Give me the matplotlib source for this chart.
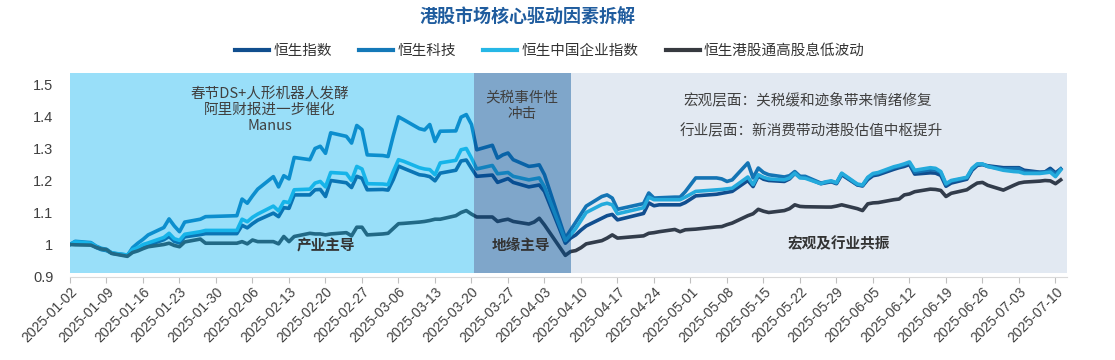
import matplotlib
matplotlib.use("Agg")
import matplotlib.pyplot as plt
import matplotlib.dates as mdates
from matplotlib.lines import Line2D
import pandas as pd

plt.rcParams['font.family'] = ['Noto Sans CJK SC', 'DejaVu Sans']

# =============================================================================
# Data (normalised to 2025-01-02 = 1)

dates = [
    '2025-01-02', '2025-01-03', '2025-01-06', '2025-01-07', '2025-01-08', '2025-01-09', '2025-01-10',
    '2025-01-13', '2025-01-14', '2025-01-15', '2025-01-16', '2025-01-17', '2025-01-20', '2025-01-21',
    '2025-01-22', '2025-01-23', '2025-01-24', '2025-01-27', '2025-01-28',
    '2025-02-03', '2025-02-04', '2025-02-05', '2025-02-06', '2025-02-07', '2025-02-10', '2025-02-11',
    '2025-02-12', '2025-02-13', '2025-02-14', '2025-02-17', '2025-02-18', '2025-02-19', '2025-02-20',
    '2025-02-21', '2025-02-24', '2025-02-25', '2025-02-26', '2025-02-27', '2025-02-28',
    '2025-03-03', '2025-03-04', '2025-03-05', '2025-03-06', '2025-03-07', '2025-03-10', '2025-03-11',
    '2025-03-12', '2025-03-13', '2025-03-14', '2025-03-17', '2025-03-18', '2025-03-19', '2025-03-20',
    '2025-03-21', '2025-03-24', '2025-03-25', '2025-03-26', '2025-03-27', '2025-03-28', '2025-03-31',
    '2025-04-01', '2025-04-02', '2025-04-03', '2025-04-07', '2025-04-08', '2025-04-09', '2025-04-10',
    '2025-04-11', '2025-04-14', '2025-04-15', '2025-04-16', '2025-04-17', '2025-04-22', '2025-04-23',
    '2025-04-24', '2025-04-25', '2025-04-28', '2025-04-29', '2025-04-30',
    '2025-05-02', '2025-05-06', '2025-05-07', '2025-05-08', '2025-05-09', '2025-05-12', '2025-05-13',
    '2025-05-14', '2025-05-15', '2025-05-16', '2025-05-19', '2025-05-20', '2025-05-21', '2025-05-22',
    '2025-05-23', '2025-05-26', '2025-05-27', '2025-05-28', '2025-05-29', '2025-05-30',
    '2025-06-02', '2025-06-03', '2025-06-04', '2025-06-05', '2025-06-06', '2025-06-09', '2025-06-10',
    '2025-06-11', '2025-06-12', '2025-06-13', '2025-06-16', '2025-06-17', '2025-06-18', '2025-06-19',
    '2025-06-20', '2025-06-23', '2025-06-24', '2025-06-25', '2025-06-26', '2025-06-27', '2025-06-30',
    '2025-07-02', '2025-07-03', '2025-07-04', '2025-07-07', '2025-07-08', '2025-07-09', '2025-07-10',
    '2025-07-11',
]

hsi = [
    1.000, 1.004, 1.001, 0.991, 0.984, 0.981, 0.973, 0.967, 0.979, 0.984, 0.994, 0.998, 1.015, 1.025,
    1.010, 1.005, 1.024, 1.031, 1.034,
    1.034, 1.060, 1.052, 1.065, 1.076, 1.098, 1.087, 1.115, 1.113, 1.155, 1.155, 1.171, 1.172, 1.150,
    1.200, 1.193, 1.178, 1.213, 1.207, 1.171,
    1.172, 1.170, 1.203, 1.245, 1.238, 1.218, 1.216, 1.212, 1.199, 1.223, 1.232, 1.261, 1.264, 1.238,
    1.213, 1.217, 1.194, 1.200, 1.206, 1.194, 1.180,
    1.183, 1.186, 1.166, 1.004, 1.020, 1.030, 1.045, 1.058, 1.082, 1.090, 1.094, 1.077, 1.097, 1.130,
    1.121, 1.124, 1.124, 1.124, 1.131,
    1.152, 1.157, 1.160, 1.163, 1.166, 1.200, 1.181, 1.214, 1.204, 1.200, 1.197, 1.205, 1.222, 1.212,
    1.210, 1.190, 1.193, 1.196, 1.190, 1.218,
    1.186, 1.183, 1.203, 1.215, 1.218, 1.235, 1.240, 1.244, 1.250, 1.220, 1.224, 1.223, 1.216, 1.182,
    1.192, 1.204, 1.232, 1.247, 1.250, 1.246, 1.240,
    1.240, 1.240, 1.232, 1.226, 1.227, 1.238, 1.224, 1.236,
]

hstech = [
    1.000, 1.010, 1.006, 0.995, 0.988, 0.985, 0.973, 0.965, 0.990, 1.004, 1.016, 1.030, 1.053, 1.080,
    1.058, 1.040, 1.070, 1.079, 1.087,
    1.090, 1.142, 1.129, 1.152, 1.173, 1.212, 1.180, 1.215, 1.205, 1.272, 1.265, 1.300, 1.307, 1.285,
    1.349, 1.338, 1.317, 1.372, 1.359, 1.280,
    1.278, 1.275, 1.340, 1.399, 1.390, 1.362, 1.358, 1.375, 1.322, 1.354, 1.355, 1.398, 1.406, 1.375,
    1.296, 1.310, 1.270, 1.280, 1.286, 1.265, 1.244,
    1.246, 1.249, 1.218, 1.020, 1.045, 1.070, 1.095, 1.120, 1.150, 1.155, 1.145, 1.110, 1.128, 1.161,
    1.145, 1.146, 1.148, 1.148, 1.165,
    1.208, 1.208, 1.205, 1.197, 1.202, 1.255, 1.208, 1.239, 1.225, 1.218, 1.211, 1.215, 1.228, 1.213,
    1.213, 1.192, 1.195, 1.197, 1.192, 1.221,
    1.187, 1.184, 1.208, 1.219, 1.222, 1.240, 1.244, 1.249, 1.255, 1.226, 1.234, 1.233, 1.225, 1.187,
    1.198, 1.208, 1.236, 1.250, 1.250, 1.244, 1.236,
    1.237, 1.237, 1.226, 1.225, 1.226, 1.232, 1.220, 1.236,
]

hscei = [
    1.000, 1.008, 1.004, 0.993, 0.986, 0.983, 0.974, 0.967, 0.984, 0.990, 1.000, 1.005, 1.022, 1.035,
    1.018, 1.013, 1.032, 1.040, 1.044,
    1.044, 1.079, 1.071, 1.085, 1.095, 1.120, 1.105, 1.134, 1.131, 1.171, 1.173, 1.192, 1.197, 1.180,
    1.225, 1.222, 1.200, 1.244, 1.236, 1.190,
    1.189, 1.187, 1.228, 1.265, 1.260, 1.240, 1.236, 1.234, 1.218, 1.255, 1.263, 1.296, 1.300, 1.270,
    1.236, 1.247, 1.221, 1.223, 1.225, 1.213, 1.202,
    1.205, 1.208, 1.180, 1.012, 1.030, 1.050, 1.075, 1.100, 1.125, 1.129, 1.124, 1.096, 1.115, 1.148,
    1.140, 1.140, 1.140, 1.140, 1.148,
    1.166, 1.171, 1.172, 1.174, 1.176, 1.211, 1.187, 1.218, 1.210, 1.205, 1.202, 1.208, 1.223, 1.208,
    1.207, 1.190, 1.196, 1.199, 1.193, 1.223,
    1.189, 1.186, 1.210, 1.222, 1.225, 1.243, 1.247, 1.252, 1.258, 1.232, 1.240, 1.238, 1.228, 1.190,
    1.200, 1.210, 1.238, 1.252, 1.252, 1.244, 1.232,
    1.228, 1.227, 1.222, 1.222, 1.224, 1.226, 1.212, 1.233,
]

lowvol = [
    1.000, 0.999, 0.998, 0.991, 0.986, 0.984, 0.972, 0.963, 0.975, 0.980, 0.987, 0.993, 1.000, 1.004,
    0.997, 0.993, 1.008, 1.017, 1.004,
    1.004, 1.009, 1.002, 1.014, 1.009, 1.009, 1.002, 1.025, 1.009, 1.025, 1.035, 1.033, 1.033, 1.030,
    1.033, 1.037, 1.027, 1.054, 1.054, 1.030,
    1.033, 1.035, 1.050, 1.065, 1.066, 1.070, 1.072, 1.075, 1.079, 1.079, 1.090, 1.100, 1.106, 1.095,
    1.086, 1.086, 1.072, 1.076, 1.079, 1.072, 1.064,
    1.070, 1.082, 1.061, 0.966, 0.978, 0.981, 0.990, 1.002, 1.012, 1.020, 1.030, 1.020, 1.027, 1.035,
    1.037, 1.040, 1.047, 1.040, 1.046,
    1.048, 1.055, 1.056, 1.062, 1.067, 1.090, 1.096, 1.110, 1.104, 1.100, 1.106, 1.112, 1.124, 1.119,
    1.118, 1.117, 1.117, 1.117, 1.120, 1.124,
    1.112, 1.106, 1.127, 1.130, 1.131, 1.140, 1.142, 1.155, 1.158, 1.165, 1.173, 1.172, 1.169, 1.150,
    1.160, 1.171, 1.182, 1.192, 1.194, 1.185, 1.170,
    1.185, 1.192, 1.195, 1.198, 1.200, 1.199, 1.190, 1.202,
]

series_names = ['恒生指数', '恒生科技', '恒生中国企业指数', '恒生港股通高股息低波动']
series_colors = ['#114E8E', '#1479B8', '#26B7E6', '#373A40']

# phases: start, end, overlay colour, alpha
phase_start = ['2025-01-02', '2025-03-20 12:00', '2025-04-08 02:00']
phase_end = ['2025-03-20 12:00', '2025-04-08 02:00', '2025-07-12 05:00']
phase_color = ['#00B0F0', '#014F97', '#16509B']
phase_alpha = [0.40, 0.50, 0.12]

title = '港股市场核心驱动因素拆解'


# =============================================================================
# Plot

W, H = 1115, 360
def fx(px): return px / W
def fy(py): return 1 - py / H

fig = plt.figure(figsize=(W / 100, H / 100), dpi=100)
ax = fig.add_axes([fx(70), 83.5 / H, 997 / W, 203.2 / H])

x = pd.to_datetime(dates)
for vals, name, col, z in zip([hsi, hstech, hscei, lowvol], series_names, series_colors, [2, 3, 4, 5]):
    ax.plot(x, vals, color=col, lw=2.6, label=name, zorder=z)

ymin, ymax = 0.9, 0.9 + 203.2 / 320
for s, e, c, a in zip(phase_start, phase_end, phase_color, phase_alpha):
    ax.axvspan(pd.Timestamp(s), pd.Timestamp(e), ymin=0.01 / (ymax - ymin), ymax=1,
               color=c, alpha=a, lw=0, zorder=6)

ax.set_ylim(ymin, ymax)
ax.set_xlim(pd.Timestamp('2025-01-02'), pd.Timestamp(phase_end[-1]))

ax.set_xticks(pd.date_range('2025-01-02', '2025-07-10', freq='7D'))
ax.xaxis.set_major_formatter(mdates.DateFormatter('%Y-%m-%d'))
ax.set_yticks([0.9, 1.0, 1.1, 1.2, 1.3, 1.4, 1.5])
ax.yaxis.set_major_formatter(plt.FuncFormatter(lambda v, p: '%g' % round(v, 2)))

ax.tick_params(axis='x', length=4, color='#BFBFBF', labelsize=10, labelcolor='#404040', pad=2)
ax.tick_params(axis='y', length=0, labelsize=10.5, labelcolor='#404040', pad=12)
for lab in ax.get_xticklabels():
    lab.set_rotation(45)
    lab.set_ha('right')
    lab.set_rotation_mode('anchor')
    lab.set_family('Liberation Sans')
for lab in ax.get_yticklabels():
    lab.set_family('Liberation Sans')

for sp in ['top', 'right', 'left']:
    ax.spines[sp].set_visible(False)
ax.spines['bottom'].set_color('#D9D9D9')
ax.spines['bottom'].set_zorder(7)

# title & legend
fig.text(fx(528), fy(17), title, ha='center', va='center', fontsize=13,
         fontweight='bold', color='#1F5C9E')
handles = [Line2D([], [], color=c, lw=3) for c in series_colors]
leg = fig.legend(handles, series_names, loc='center', bbox_to_anchor=(fx(550), fy(51)),
                 ncol=4, frameon=False, fontsize=10.5, handlelength=2.3,
                 handletextpad=0.3, columnspacing=1.9)
for t in leg.get_texts():
    t.set_color('#333333')

# annotations
note = '#404040'
fig.text(fx(270), fy(110), '春节DS+人形机器人发酵\n阿里财报进一步催化\nManus', ha='center',
         va='center', fontsize=10.5, color=note, linespacing=1.15)
fig.text(fx(522), fy(106), '关税事件性\n冲击', ha='center', va='center', fontsize=10.5,
         color=note, linespacing=1.2)
fig.text(fx(683), fy(100), '宏观层面：关税缓和迹象带来情绪修复', ha='left', va='center',
         fontsize=10.5, color=note)
fig.text(fx(680), fy(131), '行业层面：新消费带动港股估值中枢提升', ha='left', va='center',
         fontsize=10.5, color=note)
for txt, px, py in [('产业主导', 326, 246), ('地缘主导', 521, 245), ('宏观及行业共振', 839, 243)]:
    fig.text(fx(px), fy(py), txt, ha='center', va='center', fontsize=10.5,
             fontweight='bold', color='#333333')

fig.savefig('out.png', dpi=100)
